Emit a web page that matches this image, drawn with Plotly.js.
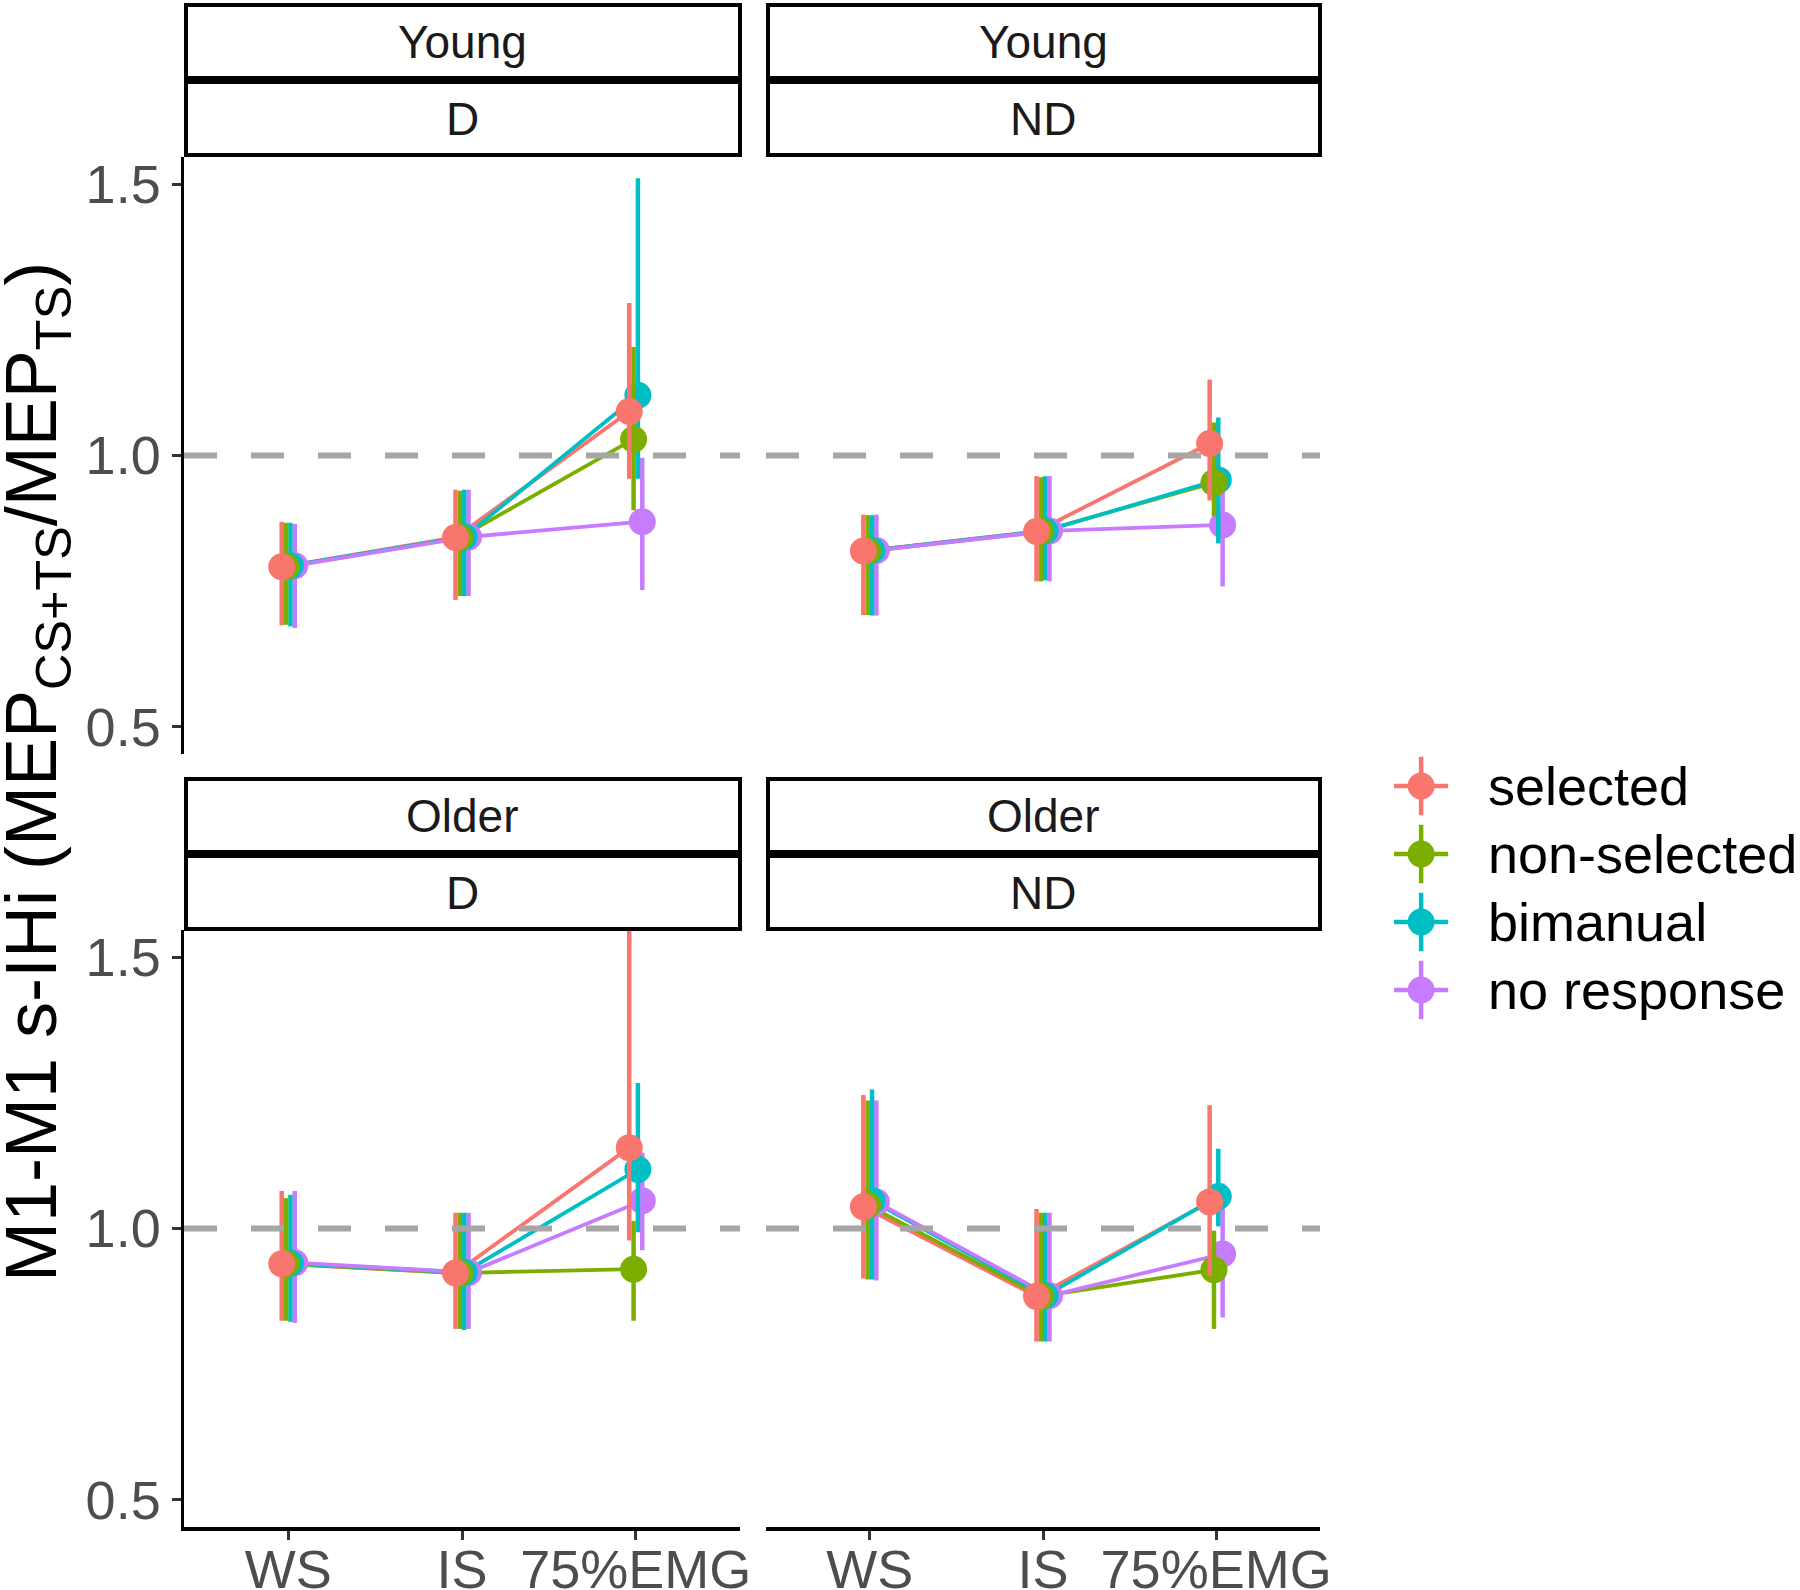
<!DOCTYPE html>
<html><head><meta charset="utf-8">
<script src="https://cdn.plot.ly/plotly-3.0.1.min.js"></script>
<style>html,body{margin:0;padding:0;background:#fff}#chart{width:1800px;height:1590px}</style>
</head><body><div id="chart"></div>
<script>
const conditions = ["WS", "IS", "75%EMG"];
const groups = ["selected", "non-selected", "bimanual", "no response"];
const groupColors = ["#F8766D", "#7CAE00", "#00BFC4", "#C77CFF"];
const panelAges = ["Young", "Young", "Older", "Older"];
const panelHands = ["D", "ND", "D", "ND"];
const yTicks = [0.5, 1.0, 1.5];
const yTickText = ["0.5", "1.0", "1.5"];

// rows = groups (selected, non-selected, bimanual, no response); cols = conditions
const youngD_mean  = [[0.795, 0.849, 1.081], [0.795, 0.849, 1.030], [0.797, 0.850, 1.111], [0.797, 0.850, 0.878]];
const youngD_upper = [[0.878, 0.937, 1.281], [0.876, 0.935, 1.200], [0.876, 0.937, 1.511], [0.874, 0.937, 0.996]];
const youngD_lower = [[0.687, 0.734, 0.957], [0.688, 0.741, 0.899], [0.685, 0.741, 0.957], [0.682, 0.741, 0.752]];

const youngND_mean  = [[0.824, 0.860, 1.022], [0.824, 0.860, 0.950], [0.825, 0.861, 0.955], [0.825, 0.861, 0.872]];
const youngND_upper = [[0.891, 0.962, 1.140], [0.890, 0.960, 1.061], [0.890, 0.962, 1.070], [0.891, 0.962, 0.960]];
const youngND_lower = [[0.706, 0.768, 0.917], [0.706, 0.768, 0.888], [0.705, 0.770, 0.838], [0.705, 0.768, 0.759]];

const olderD_mean  = [[0.935, 0.918, 1.149], [0.935, 0.918, 0.925], [0.936, 0.919, 1.109], [0.937, 0.919, 1.051]];
const olderD_upper = [[1.069, 1.029, 1.600], [1.056, 1.029, 1.014], [1.062, 1.029, 1.268], [1.069, 1.029, 1.140]];
const olderD_lower = [[0.830, 0.815, 0.978], [0.830, 0.815, 0.830], [0.828, 0.813, 0.993], [0.826, 0.815, 0.960]];

const olderND_mean  = [[1.040, 0.875, 1.049], [1.043, 0.875, 0.924], [1.051, 0.876, 1.059], [1.049, 0.876, 0.953]];
const olderND_upper = [[1.246, 1.036, 1.227], [1.236, 1.029, 0.996], [1.256, 1.029, 1.147], [1.236, 1.029, 1.083]];
const olderND_lower = [[0.908, 0.792, 0.913], [0.906, 0.792, 0.815], [0.906, 0.792, 1.004], [0.904, 0.792, 0.836]];

const panelMeans  = [youngD_mean, youngND_mean, olderD_mean, olderND_mean];
const panelUppers = [youngD_upper, youngND_upper, olderD_upper, olderND_upper];
const panelLowers = [youngD_lower, youngND_lower, olderD_lower, olderND_lower];

const W = 1800, H = 1590;
const px = v => v / W;
const py = v => 1 - v / H;
const FONT = "Liberation Sans, Arial, Helvetica, sans-serif";
const dodge = 0.1;
const off = g => (g - (groups.length - 1) / 2) * dodge / groups.length;

const colDomains = [[px(184), px(740)], [px(766), px(1320)]];
const rowDomains = [[py(754), py(157)], [py(1527), py(930)]];
const suffix = ["", "2", "3", "4"];

const traces = [];
for (let p = 0; p < 4; p++) {
  const xa = "x" + suffix[p], ya = "y" + suffix[p];
  for (let g = 0; g < groups.length; g++) {
    traces.push({
      type: "scatter", mode: "lines", xaxis: xa, yaxis: ya,
      x: conditions.map((c, i) => i + 1 + off(g)),
      y: panelMeans[p][g],
      line: {color: groupColors[g], width: 3.8},
      hoverinfo: "skip", showlegend: false
    });
  }
  for (let g = groups.length - 1; g >= 0; g--) {
    const m = panelMeans[p][g];
    traces.push({
      type: "scatter", mode: "markers", xaxis: xa, yaxis: ya, name: groups[g],
      x: conditions.map((c, i) => i + 1 + off(g)),
      y: m,
      marker: {color: groupColors[g], size: 27, line: {width: 0}},
      error_y: {type: "data", symmetric: false,
        array: panelUppers[p][g].map((u, i) => u - m[i]),
        arrayminus: panelLowers[p][g].map((l, i) => m[i] - l),
        color: groupColors[g], thickness: 4.5, width: 0},
      cliponaxis: true, showlegend: false
    });
  }
}

// legend keys
groups.forEach((g, i) => {
  traces.push({
    type: "scatter", mode: "markers", xaxis: "x5", yaxis: "y5",
    x: [0], y: [i],
    marker: {color: groupColors[i], size: 27, line: {width: 0}},
    error_x: {type: "constant", value: 0.5, color: groupColors[i], thickness: 4.5, width: 0},
    error_y: {type: "constant", value: 0.43, color: groupColors[i], thickness: 4.5, width: 0},
    hoverinfo: "skip", showlegend: false
  });
});

const layout = {
  width: W, height: H,
  margin: {l: 0, r: 0, t: 0, b: 0},
  paper_bgcolor: "#ffffff", plot_bgcolor: "#ffffff",
  showlegend: false,
  font: {family: FONT, color: "#000"},
  shapes: [], annotations: []
};

for (let p = 0; p < 4; p++) {
  const col = p % 2, row = Math.floor(p / 2);
  const xKey = "xaxis" + suffix[p], yKey = "yaxis" + suffix[p];
  const bottom = row === 1, left = col === 0;
  layout[xKey] = {
    domain: colDomains[col], anchor: "y" + suffix[p],
    range: [0.4, 3.6], tickvals: conditions.map((c, i) => i + 1), ticktext: conditions,
    showgrid: false, zeroline: false,
    showline: bottom, linecolor: "#000", linewidth: 3.5,
    ticks: bottom ? "outside" : "", ticklen: 9, tickwidth: 3, tickcolor: "#333",
    showticklabels: bottom, ticklabelstandoff: -16,
    tickfont: {family: FONT, size: 54, color: "#4D4D4D"}
  };
  layout[yKey] = {
    domain: rowDomains[row], anchor: "x" + suffix[p],
    range: [0.45, 1.55], tickvals: yTicks, ticktext: yTickText,
    showgrid: false, zeroline: false,
    showline: left, linecolor: "#000", linewidth: 3.5,
    ticks: left ? "outside" : "", ticklen: 9, tickwidth: 3, tickcolor: "#333",
    showticklabels: left,
    tickfont: {family: FONT, size: 54, color: "#4D4D4D"}
  };
  layout.shapes.push({
    type: "line", xref: "x" + suffix[p], yref: "y" + suffix[p],
    x0: 0.4, x1: 3.6, y0: 1, y1: 1, layer: "above",
    line: {color: "#A6A6A6", width: 6, dash: "33px,34px"}
  });
  // strips
  const stripRows = row === 0 ? [[5, 78], [82, 155]] : [[779, 852], [856, 929]];
  const labels = [panelAges[p], panelHands[p]];
  stripRows.forEach((r, k) => {
    layout.shapes.push({
      type: "rect", xref: "paper", yref: "paper",
      x0: colDomains[col][0] + px(2), x1: colDomains[col][1],
      y0: py(r[1]), y1: py(r[0]),
      fillcolor: "#ffffff", line: {color: "#000", width: 4}, layer: "above"
    });
    layout.annotations.push({
      xref: "paper", yref: "paper",
      x: (colDomains[col][0] + colDomains[col][1]) / 2, y: py((r[0] + r[1]) / 2),
      text: labels[k], showarrow: false, xanchor: "center", yanchor: "middle",
      font: {family: FONT, size: 46, color: "#1A1A1A"}
    });
  });
}

layout.xaxis5 = {domain: [px(1367), 1], range: [-1, 7], visible: false, anchor: "y5", fixedrange: true};
layout.yaxis5 = {domain: [py(1024), py(752)], range: [3.5, -0.5], visible: false, anchor: "x5", fixedrange: true};
groups.forEach((g, i) => {
  layout.annotations.push({
    xref: "x5", yref: "y5", x: 1.2, y: i, text: g, showarrow: false,
    xanchor: "left", yanchor: "middle",
    font: {family: FONT, size: 54, color: "#000"}
  });
});

layout.annotations.push({
  xref: "paper", yref: "paper", x: px(36), y: py(772),
  text: "M1-M1 s-IHi (MEP<sub>CS+TS</sub>/MEP<sub>TS</sub>)",
  textangle: -90, showarrow: false, xanchor: "center", yanchor: "middle",
  font: {family: FONT, size: 72, color: "#000"}
});

Plotly.newPlot("chart", traces, layout, {staticPlot: true, displayModeBar: false});
</script>
</body></html>
